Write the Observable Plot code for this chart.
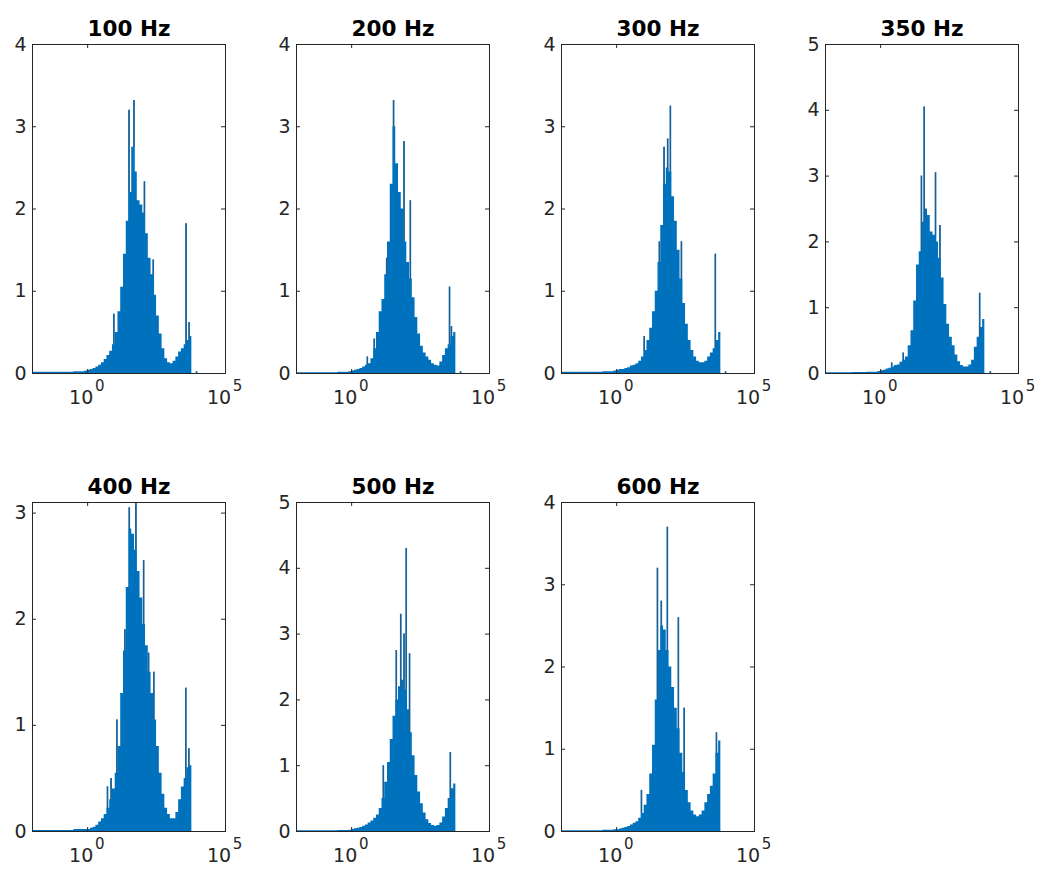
<!DOCTYPE html>
<html><head><meta charset="utf-8">
<script src="https://cdn.jsdelivr.net/npm/d3@7"></script>
<script src="https://cdn.jsdelivr.net/npm/@observablehq/plot@0.6"></script>
<style>
body{margin:0;background:#fff;}
#root{position:relative;width:1039px;height:870px;background:#fff;overflow:hidden;}
</style></head><body><div id="root"></div>
<script>
const titles = ["100 Hz","200 Hz","300 Hz","350 Hz","400 Hz","500 Hz","600 Hz"];
const yMax = [4, 4, 4, 5, 3.1, 5, 4];
const yTicks = [[0,1,2,3,4],[0,1,2,3,4],[0,1,2,3,4],[0,1,2,3,4,5],[0,1,2,3],[0,1,2,3,4,5],[0,1,2,3,4]];
const xTickExp = [0, 5];
// histogram bin edges, as log10 of the value
const binEdgesLog = [-2,-1,-0.5,-0.1,0,0.1,0.2,0.3,0.4,0.5,0.6,0.7,0.8,0.9,1.0,1.1,1.2,1.3,1.4,1.5,1.6,1.7,1.8,1.9,2.0,2.1,2.2,2.3,2.4,2.5,2.6,2.7,2.8,2.9,3.0,3.1,3.2,3.3,3.4,3.5,3.6,3.7,3.78];

const counts100 = [0.015,0.015,0.02,0.03,0.04,0.05,0.06,0.08,0.1,0.13,0.17,0.22,0.27,0.35,0.5,0.75,1.05,1.45,1.85,2.2,2.75,2.45,2.1,2.05,1.95,1.7,1.4,1.2,0.95,0.7,0.48,0.3,0.18,0.13,0.12,0.15,0.2,0.26,0.3,0.35,0.4,0.45];
const counts200 = [0.01,0.01,0.015,0.02,0.03,0.04,0.05,0.06,0.08,0.1,0.12,0.18,0.3,0.5,0.75,0.9,1.2,1.6,2.3,3.0,2.55,2.2,2.0,1.6,1.35,1.15,0.92,0.68,0.48,0.33,0.25,0.2,0.16,0.12,0.1,0.09,0.14,0.22,0.3,0.35,0.45,0.5];
const counts300 = [0.015,0.015,0.02,0.03,0.04,0.05,0.05,0.06,0.07,0.09,0.1,0.12,0.15,0.2,0.28,0.4,0.55,0.75,1.0,1.35,1.8,2.3,2.5,2.45,2.15,1.85,1.5,1.15,0.85,0.6,0.4,0.28,0.2,0.15,0.13,0.13,0.15,0.2,0.25,0.3,0.4,0.5];
const counts350 = [0.01,0.015,0.02,0.03,0.04,0.05,0.07,0.08,0.1,0.12,0.13,0.17,0.2,0.25,0.42,0.65,1.1,1.65,1.85,2.3,2.5,2.4,2.15,2.1,2.0,1.75,1.45,1.05,0.75,0.55,0.42,0.28,0.18,0.12,0.1,0.1,0.13,0.2,0.4,0.55,0.7,0.82];
const counts400 = [0.01,0.01,0.02,0.02,0.02,0.03,0.04,0.06,0.09,0.12,0.16,0.22,0.3,0.4,0.55,0.8,1.3,1.7,2.3,2.85,2.8,2.65,2.45,2.2,1.95,1.75,1.5,1.3,1.05,0.8,0.55,0.35,0.22,0.16,0.12,0.12,0.18,0.3,0.42,0.5,0.6,0.62];
const counts500 = [0.01,0.01,0.015,0.02,0.03,0.04,0.05,0.06,0.08,0.1,0.13,0.16,0.2,0.25,0.35,0.5,0.75,1.05,1.4,1.75,2.0,2.2,2.3,2.15,1.85,1.5,1.15,0.85,0.6,0.42,0.28,0.18,0.12,0.09,0.08,0.09,0.13,0.22,0.35,0.5,0.65,0.72];
const counts600 = [0.01,0.01,0.015,0.02,0.02,0.03,0.04,0.05,0.06,0.08,0.1,0.12,0.16,0.22,0.32,0.45,0.7,1.05,1.6,2.2,2.5,2.45,2.2,2.0,1.75,1.5,1.25,0.95,0.72,0.5,0.35,0.25,0.2,0.18,0.2,0.25,0.35,0.45,0.55,0.7,0.95,1.1];

// narrow single-bin spikes: position (log10) and height
const spikes100Log = [0.95,1.5,1.68,2.06,2.38,3.57,3.68,3.95];
const spikes100Val = [0.72,3.2,3.32,2.33,1.38,1.82,0.62,0.02];
const spikes200Log = [0.57,0.82,1.14,1.27,1.52,1.9,2.13,3.55,3.62,3.95];
const spikes200Val = [0.2,0.42,0.88,1.4,3.32,2.82,2.1,1.05,0.57,0.02];
const spikes300Log = [1.0,1.55,1.72,1.85,1.95,2.35,3.58,3.95];
const spikes300Val = [0.45,1.6,2.75,2.85,3.25,1.6,1.45,0.02];
const spikes350Log = [0.4,0.82,1.48,1.58,1.99,2.15,3.59,3.98];
const spikes350Val = [0.16,0.31,3.0,4.05,3.05,2.25,1.22,0.03];
const spikes400Log = [0.72,0.85,1.06,1.35,1.51,1.75,2.03,2.21,2.4,3.56,3.67];
const spikes400Val = [0.42,0.5,1.05,1.9,3.05,3.2,2.55,1.68,1.5,1.35,0.78];
const spikes500Log = [1.15,1.62,1.78,1.9,1.98,2.1,3.58];
const spikes500Val = [1.0,2.75,3.3,3.0,4.3,2.7,1.2];
const spikes600Log = [0.9,1.48,1.62,1.84,2.24,2.45,3.62];
const spikes600Val = [0.5,3.2,2.8,3.7,2.6,1.5,1.2];

const panels = [
  {counts: counts100, sLog: spikes100Log, sVal: spikes100Val},
  {counts: counts200, sLog: spikes200Log, sVal: spikes200Val},
  {counts: counts300, sLog: spikes300Log, sVal: spikes300Val},
  {counts: counts350, sLog: spikes350Log, sVal: spikes350Val},
  {counts: counts400, sLog: spikes400Log, sVal: spikes400Val},
  {counts: counts500, sLog: spikes500Log, sVal: spikes500Val},
  {counts: counts600, sLog: spikes600Log, sVal: spikes600Val}
];

// layout
const boxLefts = [32, 296, 561, 825];
const boxTops = [44, 502];
const W = 193, H = 329, mL = 32, mR = 24, mT = 44, mB = 46;
const AX = "#262626", BLUE = "#0072bd";

function binValue(counts, lg) {
  for (let k = 0; k < counts.length; k++) {
    if (lg >= binEdgesLog[k] && lg < binEdgesLog[k + 1]) return counts[k];
  }
  return 0;
}

const root = document.getElementById("root");
panels.forEach((p, i) => {
  const pts = p.counts.map((v, k) => ({x: 10 ** binEdgesLog[k], y: v}));
  pts.push({x: 10 ** binEdgesLog[binEdgesLog.length - 1], y: p.counts[p.counts.length - 1]});
  const spikes = p.sLog.map((s, k) => ({x: 10 ** s, y: p.sVal[k], base: Math.min(p.sVal[k], binValue(p.counts, s))}));
  const xt = xTickExp.map(e => 10 ** e);
  const svg = Plot.plot({
    width: W + mL + mR, height: H + mT + mB,
    marginLeft: mL, marginRight: mR, marginTop: mT, marginBottom: mB,
    style: {fontFamily: "DejaVu Sans", fontSize: "19px", background: "transparent", overflow: "visible"},
    x: {type: "log", domain: [1e-2, 1e5], axis: null},
    y: {domain: [0, yMax[i]], axis: null},
    marks: [
      Plot.areaY(pts, {x: "x", y: "y", curve: "step-after", fill: BLUE, clip: true}),
      Plot.ruleX(spikes, {x: "x", y1: 0, y2: "y", stroke: BLUE, strokeWidth: 1.6, clip: true}),
      Plot.ruleX(spikes, {x: "x", y1: "base", y2: "y", stroke: "#245d8c", strokeWidth: 1.2, clip: true}),
      Plot.frame({stroke: AX, strokeWidth: 1}),
      Plot.ruleY(yTicks[i], {y: d => d, stroke: AX, insetRight: W - 4}),
      Plot.ruleY(yTicks[i], {y: d => d, stroke: AX, insetLeft: W - 4}),
      Plot.ruleX(xt, {x: d => d, stroke: AX, insetTop: H - 4}),
      Plot.ruleX(xt, {x: d => d, stroke: AX, insetBottom: H - 4}),
      Plot.text(yTicks[i], {y: d => d, frameAnchor: "left", text: d => String(d), textAnchor: "end", dx: -6, fontSize: 19, fill: AX}),
      Plot.text(xt, {x: d => d, frameAnchor: "bottom", text: () => "10", dy: 30, dx: -6.5, fontSize: 19, fill: AX}),
      Plot.text(xTickExp, {x: d => 10 ** d, frameAnchor: "bottom", text: d => String(d), dy: 17, dx: 12, fontSize: 15, fill: AX}),
      Plot.text([titles[i]], {frameAnchor: "top", text: d => d, dy: -24, fontSize: 21.5, fontWeight: "bold", fill: "#000"})
    ]
  });
  const col = i < 4 ? i : i - 4;
  const row = i < 4 ? 0 : 1;
  svg.style.position = "absolute";
  svg.style.left = (boxLefts[col] - mL) + "px";
  svg.style.top = (boxTops[row] - mT) + "px";
  svg.style.maxWidth = "none";
  root.appendChild(svg);
});
</script>
</body></html>
